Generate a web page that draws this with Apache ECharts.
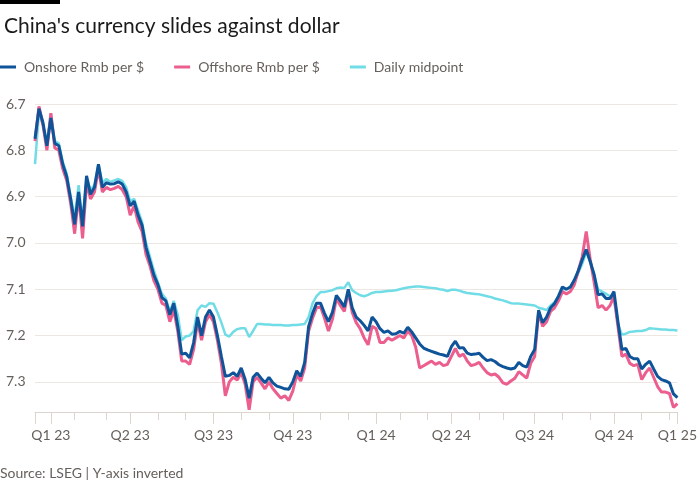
<!DOCTYPE html>
<html><head><meta charset="utf-8">
<script src="https://cdn.jsdelivr.net/npm/echarts@6/dist/echarts.min.js"></script>
<style>html,body{margin:0;padding:0;background:#fff}#c{width:700px;height:500px}</style>
</head><body><div id="c"></div>
<script>
// Months covered by the samples and how many samples fall in each month
const months = ['2022-12','2023-01','2023-02','2023-03','2023-04','2023-05','2023-06','2023-07','2023-08','2023-09','2023-10','2023-11','2023-12',
  '2024-01','2024-02','2024-03','2024-04','2024-05','2024-06','2024-07','2024-08','2024-09','2024-10','2024-11','2024-12','2025-01'];
const samplesPerMonth = [4,6,8,6,7,7,7,7,7,6,7,7,7,6,7,6,7,6,8,7,7,6,7,7,2,1];
const quarterLabels = {'2023-01':'Q1 23','2023-04':'Q2 23','2023-07':'Q3 23','2023-10':'Q4 23',
  '2024-01':'Q1 24','2024-04':'Q2 24','2024-07':'Q3 24','2024-10':'Q4 24','2025-01':'Q1 25'};
const yTicks = [6.7, 6.8, 6.9, 7.0, 7.1, 7.2, 7.3];

const onshore = [
6.775,6.71,6.74,6.79,6.73,6.785,6.79,6.83,6.857,6.905,
6.96,6.89,6.964,6.855,6.895,6.88,6.83,6.88,6.87,6.873,
6.872,6.868,6.873,6.89,6.92,6.91,6.94,6.962,7.01,7.04,
7.07,7.09,7.118,7.125,7.155,7.13,7.18,7.24,7.238,7.248,
7.215,7.16,7.2,7.16,7.145,7.16,7.2,7.245,7.288,7.286,
7.28,7.288,7.27,7.295,7.335,7.29,7.281,7.292,7.302,7.29,
7.302,7.309,7.312,7.315,7.316,7.3,7.276,7.288,7.258,7.18,
7.152,7.13,7.13,7.152,7.17,7.15,7.113,7.125,7.138,7.1,
7.14,7.16,7.168,7.178,7.19,7.16,7.17,7.185,7.193,7.19,
7.197,7.196,7.191,7.195,7.182,7.192,7.205,7.218,7.227,7.231,
7.234,7.237,7.24,7.242,7.245,7.224,7.212,7.227,7.226,7.238,
7.241,7.24,7.238,7.247,7.254,7.252,7.256,7.263,7.267,7.27,
7.272,7.27,7.258,7.265,7.268,7.245,7.23,7.145,7.172,7.16,
7.14,7.131,7.115,7.095,7.1,7.095,7.08,7.06,7.036,7.014,
7.04,7.068,7.112,7.11,7.12,7.12,7.105,7.17,7.23,7.228,
7.245,7.25,7.25,7.272,7.262,7.255,7.272,7.288,7.295,7.298,
7.302,7.326,7.334];

const offshore = [
6.78,6.705,6.745,6.80,6.72,6.795,6.80,6.84,6.865,6.915,
6.98,6.895,6.99,6.87,6.905,6.89,6.84,6.89,6.88,6.885,
6.882,6.878,6.885,6.90,6.94,6.92,6.955,6.975,7.025,7.05,
7.082,7.10,7.13,7.135,7.17,7.145,7.19,7.255,7.255,7.262,
7.23,7.17,7.21,7.17,7.155,7.17,7.21,7.26,7.33,7.30,
7.29,7.296,7.28,7.305,7.36,7.30,7.29,7.302,7.315,7.30,
7.315,7.325,7.335,7.33,7.34,7.32,7.285,7.298,7.27,7.19,
7.162,7.14,7.138,7.162,7.19,7.165,7.12,7.135,7.148,7.105,
7.15,7.172,7.185,7.205,7.22,7.18,7.185,7.215,7.215,7.205,
7.21,7.205,7.2,7.205,7.19,7.2,7.225,7.27,7.265,7.26,
7.255,7.262,7.258,7.265,7.262,7.245,7.228,7.245,7.24,7.255,
7.265,7.262,7.258,7.27,7.28,7.285,7.283,7.29,7.302,7.305,
7.298,7.292,7.278,7.285,7.292,7.26,7.245,7.15,7.18,7.17,
7.148,7.14,7.125,7.105,7.11,7.105,7.09,7.06,7.03,6.975,
7.035,7.085,7.14,7.135,7.145,7.135,7.115,7.18,7.245,7.24,
7.26,7.265,7.262,7.295,7.28,7.27,7.29,7.31,7.322,7.322,
7.325,7.355,7.347];

const midpoint = [
6.83,6.72,6.745,6.785,6.72,6.78,6.785,6.825,6.85,6.90,
6.945,6.875,6.955,6.86,6.885,6.875,6.83,6.87,6.862,6.868,
6.865,6.862,6.866,6.88,6.91,6.905,6.93,6.955,7.0,7.03,
7.06,7.085,7.11,7.12,7.148,7.125,7.155,7.21,7.202,7.2,
7.19,7.145,7.135,7.138,7.13,7.131,7.15,7.172,7.198,7.202,
7.192,7.186,7.184,7.184,7.203,7.19,7.175,7.175,7.176,7.176,
7.177,7.177,7.177,7.178,7.178,7.177,7.177,7.176,7.175,7.16,
7.13,7.115,7.106,7.106,7.104,7.102,7.098,7.096,7.097,7.085,
7.102,7.108,7.113,7.115,7.112,7.108,7.106,7.106,7.105,7.104,
7.103,7.102,7.1,7.098,7.096,7.095,7.094,7.094,7.095,7.096,
7.097,7.098,7.1,7.101,7.104,7.101,7.101,7.103,7.106,7.108,
7.109,7.11,7.111,7.113,7.115,7.117,7.12,7.122,7.124,7.127,
7.13,7.131,7.131,7.132,7.133,7.134,7.135,7.14,7.142,7.145,
7.135,7.128,7.115,7.1,7.1,7.095,7.085,7.065,7.045,7.02,
7.04,7.07,7.1,7.105,7.11,7.115,7.12,7.175,7.198,7.196,
7.192,7.191,7.19,7.19,7.188,7.184,7.185,7.186,7.187,7.187,
7.188,7.188,7.189];

// Category list: one entry per sample, tagged with its month
const categories = [];
months.forEach((m, k) => { for (let j = 0; j < samplesPerMonth[k]; j++) categories.push(m + '#' + (j + 1)); });
const monthOf = (i) => categories[i].split('#')[0];
const firstOfMonth = (i) => i === 0 || monthOf(i) !== monthOf(i - 1);
const isQuarterStart = (i) => i > 0 && firstOfMonth(i) && !!quarterLabels[monthOf(i)];

const FONT = 'Lato';
const GREY = '#66605c';
const chart = echarts.init(document.getElementById('c'), null, {renderer: 'canvas'});
chart.setOption({
  animation: false,
  backgroundColor: '#ffffff',
  textStyle: {fontFamily: FONT},
  title: {
    text: "China's currency slides against dollar",
    left: -1, top: 11,
    textStyle: {fontSize: 21, fontWeight: 'normal', color: '#1a1a1a', fontFamily: FONT}
  },
  graphic: [
    {type: 'rect', left: 0, top: 0, shape: {width: 60, height: 4}, style: {fill: '#000000'}},
    {type: 'text', left: 0, top: 466, style: {text: 'Source: LSEG | Y-axis inverted', fontSize: 14, fill: GREY, fontFamily: FONT}}
  ],
  legend: {
    left: 0, top: 60, padding: 0, itemGap: 30, itemWidth: 16, itemHeight: 3, icon: 'rect',
    textStyle: {fontSize: 14, color: GREY, fontFamily: FONT, padding: [0, 0, 0, 3]},
    data: ['Onshore Rmb per $', 'Offshore Rmb per $', 'Daily midpoint']
  },
  grid: {left: 35, right: 19, top: 104, bottom: 88},
  xAxis: [
    {
      type: 'category', data: categories, boundaryGap: false, position: 'bottom',
      axisLine: {show: true, lineStyle: {color: '#ddd5cd', width: 1}},
      axisTick: {show: true, length: 8, lineStyle: {color: '#ddd5cd'}, interval: (i) => firstOfMonth(i)},
      axisLabel: {show: false},
      splitLine: {show: false}
    },
    {
      type: 'category', data: categories, boundaryGap: false, position: 'bottom',
      axisLine: {show: false},
      axisTick: {show: true, length: 12, lineStyle: {color: '#ddd5cd'}, interval: (i) => i === 0 || isQuarterStart(i)},
      axisLabel: {
        show: true, interval: (i) => isQuarterStart(i), margin: 16,
        fontSize: 14, color: GREY, fontFamily: FONT,
        formatter: (v) => quarterLabels[v.split('#')[0]] || ''
      },
      splitLine: {show: false}
    }
  ],
  yAxis: {
    type: 'value', inverse: true, min: yTicks[0], max: 7.365, interval: 0.1,
    axisLine: {show: false}, axisTick: {show: false},
    axisLabel: {
      align: 'left', margin: 29, fontSize: 14, color: GREY, fontFamily: FONT,
      showMaxLabel: false,
      formatter: (v) => yTicks.some(t => Math.abs(t - v) < 1e-6) ? v.toFixed(1) : ''
    },
    splitLine: {show: true, lineStyle: {color: '#ede7e2', width: 1}}
  },
  series: [
    {name: 'Onshore Rmb per $', type: 'line', data: onshore, symbol: 'none', z: 5,
     lineStyle: {color: '#0f5499', width: 3}, itemStyle: {color: '#0f5499'}},
    {name: 'Offshore Rmb per $', type: 'line', data: offshore, symbol: 'none', z: 4,
     lineStyle: {color: '#eb5e8d', width: 3}, itemStyle: {color: '#eb5e8d'}},
    {name: 'Daily midpoint', type: 'line', data: midpoint, symbol: 'none', z: 3,
     lineStyle: {color: '#70dce6', width: 2.5}, itemStyle: {color: '#70dce6'}}
  ]
});
</script></body></html>
